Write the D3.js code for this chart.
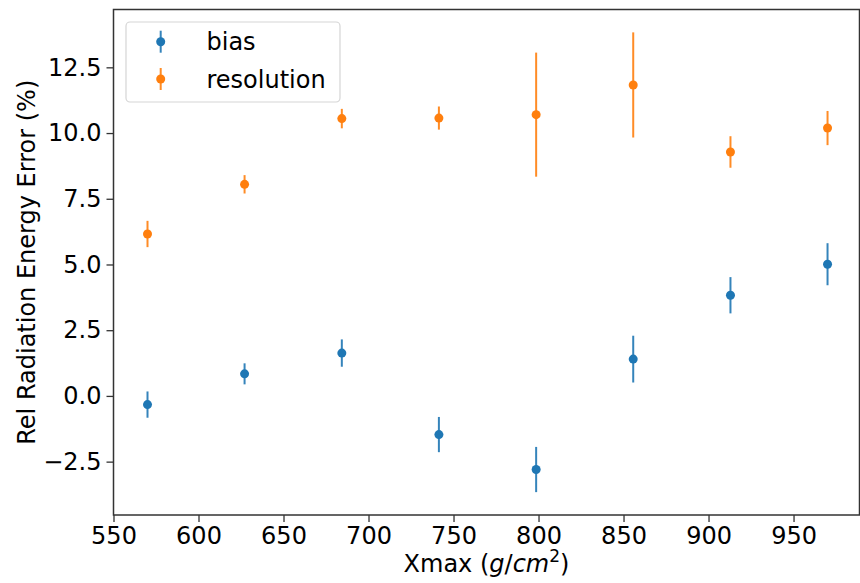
<!DOCTYPE html>
<html>
<head>
<meta charset="utf-8">
<script src="https://cdn.jsdelivr.net/npm/d3@7"></script>
<style>
  html, body { margin: 0; padding: 0; background: #fff; }
  svg { display: block; }
  text { font-family: "DejaVu Sans", sans-serif; fill: #000; }
</style>
</head>
<body>
<svg id="chart" width="860" height="583"></svg>
<script>
// ---- data ----
const xmax = [570, 627.1, 684.3, 741.4, 798.6, 855.7, 912.9, 970];
const biasValues = [-0.33, 0.84, 1.63, -1.47, -2.80, 1.40, 3.83, 5.01];
const biasErrors = [0.50, 0.40, 0.52, 0.67, 0.86, 0.89, 0.69, 0.80];
const resolutionValues = [6.16, 8.05, 10.55, 10.57, 10.70, 11.83, 9.28, 10.19];
const resolutionErrors = [0.50, 0.35, 0.37, 0.44, 2.36, 2.00, 0.60, 0.65];
const xTicks = [550, 600, 650, 700, 750, 800, 850, 900, 950];
const yTicks = [-2.5, 0.0, 2.5, 5.0, 7.5, 10.0, 12.5];
const seriesNames = ["bias", "resolution"];
const seriesColors = ["#1f77b4", "#ff7f0e"];

// ---- layout ----
const mLeft = 113.5, mRight = 859.5, mTop = 9.5, mBottom = 515;
const svg = d3.select("#chart");

const x = d3.scaleLinear().domain([550, 988.8]).range([mLeft, mRight]);
const y = d3.scaleLinear().domain([-4.53, 14.70]).range([mBottom, mTop]);

const fontSize = 24;

// axes
const xAxis = d3.axisBottom(x).tickValues(xTicks).tickFormat(d3.format("d")).tickSize(7).tickPadding(5);
const yAxis = d3.axisLeft(y).tickValues(yTicks).tickFormat(d => d3.format(".1f")(d).replace("-", "\u2212")).tickSize(7).tickPadding(5);

const gx = svg.append("g").attr("transform", `translate(0,${mBottom})`).call(xAxis);
const gy = svg.append("g").attr("transform", `translate(${mLeft},0)`).call(yAxis);
[gx, gy].forEach(g => {
  g.select(".domain").remove();
  g.selectAll(".tick line").attr("stroke", "#333").attr("stroke-width", 1.3);
  g.selectAll(".tick text").style("font-size", fontSize + "px").style("font-family", "DejaVu Sans, sans-serif").attr("fill", "#000");
});

// frame
svg.append("rect")
  .attr("x", mLeft).attr("y", mTop)
  .attr("width", mRight - mLeft).attr("height", mBottom - mTop)
  .attr("fill", "none").attr("stroke", "#333").attr("stroke-width", 1.5);

// series
const series = [
  { name: seriesNames[0], values: biasValues, errors: biasErrors, color: seriesColors[0] },
  { name: seriesNames[1], values: resolutionValues, errors: resolutionErrors, color: seriesColors[1] }
];

series.forEach(s => {
  const g = svg.append("g");
  const pts = xmax.map((xv, i) => ({ x: xv, v: s.values[i], e: s.errors[i] }));
  g.selectAll("line.err").data(pts).enter().append("line")
    .attr("x1", d => x(d.x)).attr("x2", d => x(d.x))
    .attr("y1", d => y(d.v - d.e)).attr("y2", d => y(d.v + d.e))
    .attr("stroke", s.color).attr("stroke-width", 2).attr("stroke-opacity", 0.9);
  g.selectAll("circle").data(pts).enter().append("circle")
    .attr("cx", d => x(d.x)).attr("cy", d => y(d.v))
    .attr("r", 4.5).attr("fill", s.color);
});

// legend
const lg = svg.append("g");
lg.append("rect")
  .attr("x", 126).attr("y", 22).attr("width", 214).attr("height", 80).attr("rx", 4)
  .attr("fill", "#fff").attr("fill-opacity", 0.8).attr("stroke", "#d5d5d5").attr("stroke-width", 1.2);
series.forEach((s, i) => {
  const cy = 41.7 + i * 37.3;
  lg.append("line").attr("x1", 160.7).attr("x2", 160.7).attr("y1", cy - 11).attr("y2", cy + 11)
    .attr("stroke", s.color).attr("stroke-width", 2).attr("stroke-opacity", 0.9);
  lg.append("circle").attr("cx", 160.7).attr("cy", cy).attr("r", 4.5).attr("fill", s.color);
  lg.append("text").attr("x", 206.5).attr("y", cy + 8.5).style("font-size", fontSize + "px").text(s.name);
});

// axis labels
svg.append("text")
  .attr("transform", `translate(34.5,${(mTop + mBottom) / 2}) rotate(-90)`)
  .attr("text-anchor", "middle")
  .style("font-size", fontSize + "px")
  .text("Rel Radiation Energy Error (%)");

const xl = svg.append("text")
  .attr("x", (mLeft + mRight) / 2).attr("y", 572)
  .attr("text-anchor", "middle")
  .style("font-size", fontSize + "px");
xl.append("tspan").text("Xmax (");
xl.append("tspan").style("font-style", "italic").text("g");
xl.append("tspan").text("/");
xl.append("tspan").style("font-style", "italic").text("cm");
xl.append("tspan").attr("dy", -10).style("font-size", "17px").text("2");
xl.append("tspan").attr("dy", 10).text(")");
</script>
</body>
</html>
